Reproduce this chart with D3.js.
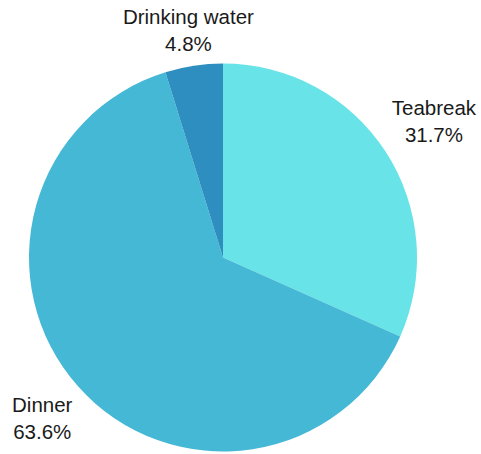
<!DOCTYPE html>
<html><head><meta charset="utf-8">
<script src="https://cdn.jsdelivr.net/npm/d3@7/dist/d3.min.js"></script>
<style>html,body{margin:0;padding:0;background:#fff;}svg{display:block;}</style>
</head><body>
<svg id="chart" width="481" height="454"></svg>
<script>
const categories = ["Teabreak", "Dinner", "Drinking water"];
const values = [31.7, 63.6, 4.8];
const colors = ["#68E3E7", "#45B8D6", "#2E8EBF"];

const W = 481, H = 454;
const cx = 223, cy = 257.5, r = 194;
const svg = d3.select("#chart");
const g = svg.append("g").attr("transform", `translate(${cx},${cy})`);

const data = categories.map((c, i) => ({name: c, value: values[i], color: colors[i]}));
const pie = d3.pie().value(d => d.value).sort(null);
const arcs = pie(data);
const arc = d3.arc().innerRadius(0).outerRadius(r);

g.selectAll("path").data(arcs).enter().append("path")
  .attr("d", arc).attr("fill", d => d.data.color);

const gap = 8, lineGap = 27, boxH = 52;
const fontSize = 20.5;

function nearestDist(x0, x1, y0, y1) {
  const dx = Math.max(x0, -x1, 0), dy = Math.max(y0, -y1, 0);
  return Math.hypot(dx, dy);
}

arcs.forEach(a => {
  const mid = (a.startAngle + a.endAngle) / 2;
  const ux = Math.sin(mid), uy = -Math.cos(mid);
  const t = g.append("text")
    .attr("text-anchor", "middle")
    .attr("font-family", "'Liberation Sans', Arial, Helvetica, sans-serif")
    .attr("font-size", fontSize)
    .attr("fill", "#1a1a1a");
  const s1 = t.append("tspan").attr("dominant-baseline", "central").text(a.data.name);
  const s2 = t.append("tspan").attr("dominant-baseline", "central").text(a.data.value.toFixed(1) + "%");
  const w = Math.max(s1.node().getComputedTextLength(), s2.node().getComputedTextLength());
  let lo = 0, hi = 500;
  for (let k = 0; k < 60; k++) {
    const m = (lo + hi) / 2;
    const px = m * ux, py = m * uy;
    const d = nearestDist(px - w / 2, px + w / 2, py - boxH / 2, py + boxH / 2);
    if (d < r + gap) lo = m; else hi = m;
  }
  const px = lo * ux, py = lo * uy;
  s1.attr("x", px).attr("y", py - lineGap / 2);
  s2.attr("x", px).attr("y", py + lineGap / 2);
});
</script>
</body></html>
